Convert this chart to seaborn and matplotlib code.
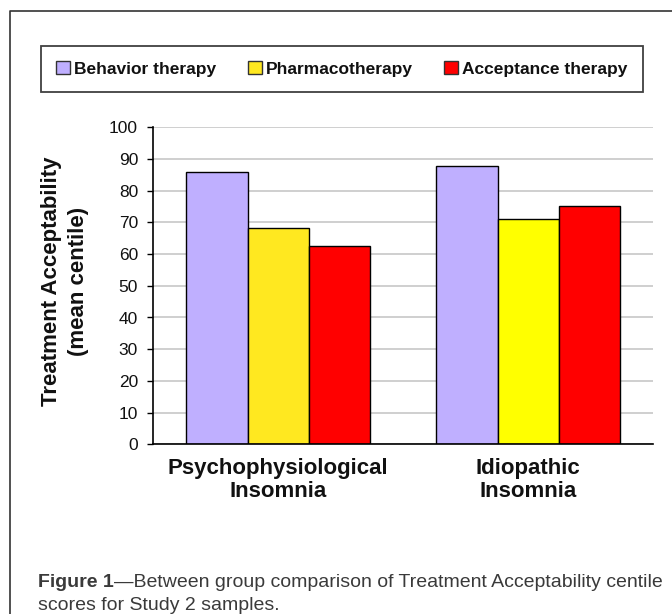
import matplotlib
matplotlib.use("Agg")
import matplotlib.pyplot as plt
import matplotlib.lines as mlines
import matplotlib.patches as mpatches
import pandas as pd
import seaborn as sns

# chart data
groups = ['Psychophysiological\nInsomnia', 'Idiopathic\nInsomnia']
therapies = ['Behavior therapy', 'Pharmacotherapy', 'Acceptance therapy']
behavior = [85.9, 87.8]
pharmaco = [68.3, 71.2]
acceptance = [62.7, 75.3]
yticks = list(range(0, 101, 10))

colors = {'Behavior therapy': '#BFAFFF', 'Pharmacotherapy': '#FFFF00', 'Acceptance therapy': '#FF0000'}

df = pd.DataFrame({
    'group': groups * 3,
    'therapy': [t for t in therapies for _ in groups],
    'value': behavior + pharmaco + acceptance,
})

sns.set_style('white')
plt.rcParams['font.family'] = ['Liberation Sans', 'DejaVu Sans']

fig = plt.figure(figsize=(6.72, 6.14), dpi=100)
ax = fig.add_axes([153.3/672, 1-444.3/614, 500/672, 317/614])

sns.barplot(data=df, x='group', y='value', hue='therapy', order=groups,
            hue_order=therapies, palette=colors, width=0.735,
            edgecolor='black', linewidth=1, saturation=1, ax=ax, legend=False)
# first group's yellow bar is a slightly warmer yellow in the original
for p in ax.patches:
    if abs(p.get_x() + p.get_width()/2) < 0.01 and abs(p.get_height() - pharmaco[0]) < 0.01:
        p.set_facecolor('#FFE820')

ax.set_ylim(0, 100)
ax.set_xlim(-0.5, 1.5)
ax.set_yticks(yticks)
ax.set_yticklabels([str(t) for t in yticks], fontsize=12.5, color='#111111')
ax.yaxis.grid(True, color='#CCCCCC', linewidth=1.3)
ax.set_axisbelow(True)
ax.set_xticks([0, 1])
ax.set_xticklabels(groups, fontsize=16, fontweight='bold', linespacing=1.12, color='#111111')
ax.tick_params(axis='x', length=0, pad=10)
ax.set_xticks([-0.5, 0.5, 1.5], minor=True)
ax.tick_params(axis='x', which='minor', length=4.5, width=1, direction='out', color='black')
ax.tick_params(axis='y', length=4, width=1, direction='out', color='black', left=True, pad=7)
for s in ['top', 'right']:
    ax.spines[s].set_visible(False)
for s in ['left', 'bottom']:
    ax.spines[s].set_color('black')
    ax.spines[s].set_linewidth(1.2)
ax.set_xlabel('')
ax.set_ylabel('')
fig.text(65/672, 1-281.5/614, 'Treatment Acceptability\n(mean centile)', fontsize=16,
         fontweight='bold', rotation=90, ha='center', va='center', multialignment='center',
         linespacing=1.4, color='#111111')

# legend
handles = [mpatches.Patch(facecolor=colors[t], edgecolor='#333333', linewidth=1, label=t) for t in therapies]
handles[1].set_facecolor('#FFE820')
leg = fig.legend(handles=handles, loc='center', bbox_to_anchor=(342/672, 1-69/614), ncol=3,
                 frameon=True, fancybox=False, edgecolor='#111111', handlelength=0.8, handleheight=0.8,
                 handletextpad=0.25, columnspacing=1.8, borderpad=0.85,
                 prop={'weight': 'bold', 'size': 12.5})
leg.get_frame().set_linewidth(1.3)
for txt in leg.get_texts():
    txt.set_color('#111111')

# outer frame lines
fig.add_artist(mlines.Line2D([9.5/672, 9.5/672, 1.0], [0.0, 1-11/614, 1-11/614], color='#333333', linewidth=1.2))

# caption
t1 = fig.text(38/672, 1-587/614, 'Figure 1', fontsize=14, fontweight='bold', color='#3a3a3a',
              va='baseline')
ax.annotate('\u2014Between group comparison of Treatment Acceptability centile', xy=(1, 0),
            xycoords=t1, fontsize=14, color='#3a3a3a', va='bottom', annotation_clip=False)
fig.text(38/672, 1-610/614, 'scores for Study 2 samples.', fontsize=14, color='#3a3a3a', va='baseline')

fig.savefig('out.png', dpi=100)
